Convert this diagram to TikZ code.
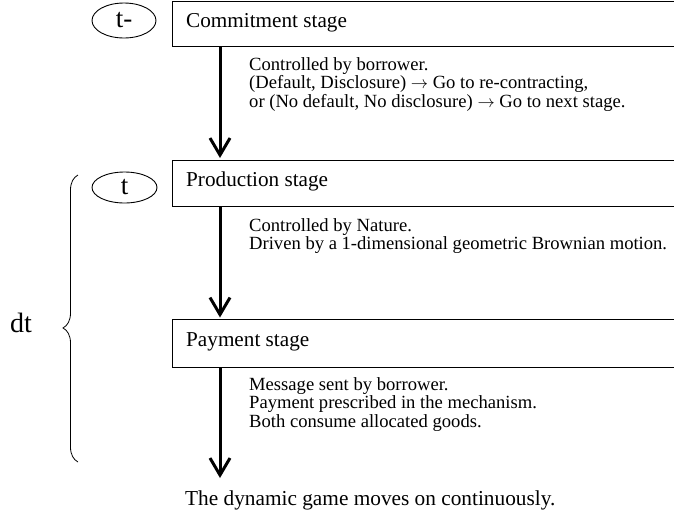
\documentclass[tikz,border=0pt]{standalone}
\usepackage{fontspec}
\setmainfont{Liberation Serif}
\usetikzlibrary{arrows.meta,decorations.pathreplacing,shapes.geometric}
\newcommand{\goarrow}{$\rightarrow$}
\begin{document}
\begin{tikzpicture}[x=1pt,y=-1pt,
  stagebox/.style={draw,line width=0.9pt,minimum width=528pt,inner sep=0pt,anchor=north west},
  stagelabel/.style={anchor=base west,inner sep=0pt,font=\fontsize{21.2}{24}\selectfont},
  note/.style={anchor=north west,inner sep=0pt,align=left,font=\fontsize{18.6}{18.8}\selectfont},
  timept/.style={draw,ellipse,line width=0.9pt,inner sep=0pt,font=\fontsize{27}{30}\selectfont},
  flow/.style={line width=3pt,-{Straight Barb[length=17pt,width=20pt]}},
  bigtext/.style={anchor=base west,inner sep=0pt,font=\fontsize{21.3}{24}\selectfont}]
\useasboundingbox (0,0) rectangle (674,517);
\clip (0,0) rectangle (674,517);

% stage boxes
\node[stagebox,minimum height=45pt] (cbox) at (172,0.5) {};
\node[stagebox,minimum height=46.5pt] (pbox) at (172,159.5) {};
\node[stagebox,minimum height=48pt] (ybox) at (172,319) {};

\node[stagelabel] (clab) at (186,27.5) {Commitment stage};
\node[stagelabel] (plab) at (186,186.7) {Production stage};
\node[stagelabel] (ylab) at (186,346.7) {Payment stage};

% time points
\node[timept,minimum width=64pt,minimum height=35pt] (tminus) at (124,20.5) {t-};
\node[timept,minimum width=65pt,minimum height=31pt] (tnow) at (124.5,187.5) {t};

% notes
\node[note] (cnote) at (249,57) {Controlled by borrower.\\
(Default, Disclosure) \goarrow{} Go to re-contracting,\\
or (No default, No disclosure) \goarrow{} Go to next stage.};
\node[note] (pnote) at (249,218) {Controlled by Nature.\\
Driven by a 1-dimensional geometric Brownian motion.};
\node[note] (ynote) at (249,377) {Message sent by borrower.\\
Payment prescribed in the mechanism.\\
Both consume allocated goods.};

% flow arrows
\coordinate (fin) at (220,478);
\draw[flow,shorten >=1.5pt] (220,0 |- cbox.south) -- (220,0 |- pbox.north);
\draw[flow,shorten >=1.5pt] (220,0 |- pbox.south) -- (220,0 |- ybox.north);
\draw[flow] (220,0 |- ybox.south) -- (fin);

\node[bigtext] (endtext) at (185,505) {The dynamic game moves on continuously.};

% brace
\coordinate (bbot) at (78,462);
\coordinate (btop) at (78,175);
\draw[line width=0.8pt,decorate,decoration={brace,amplitude=15pt,aspect=0.467}] (bbot) -- (btop);
\node[anchor=base west,inner sep=0pt,font=\fontsize{28}{30}\selectfont] (dt) at (10,332) {dt};
\end{tikzpicture}
\end{document}
